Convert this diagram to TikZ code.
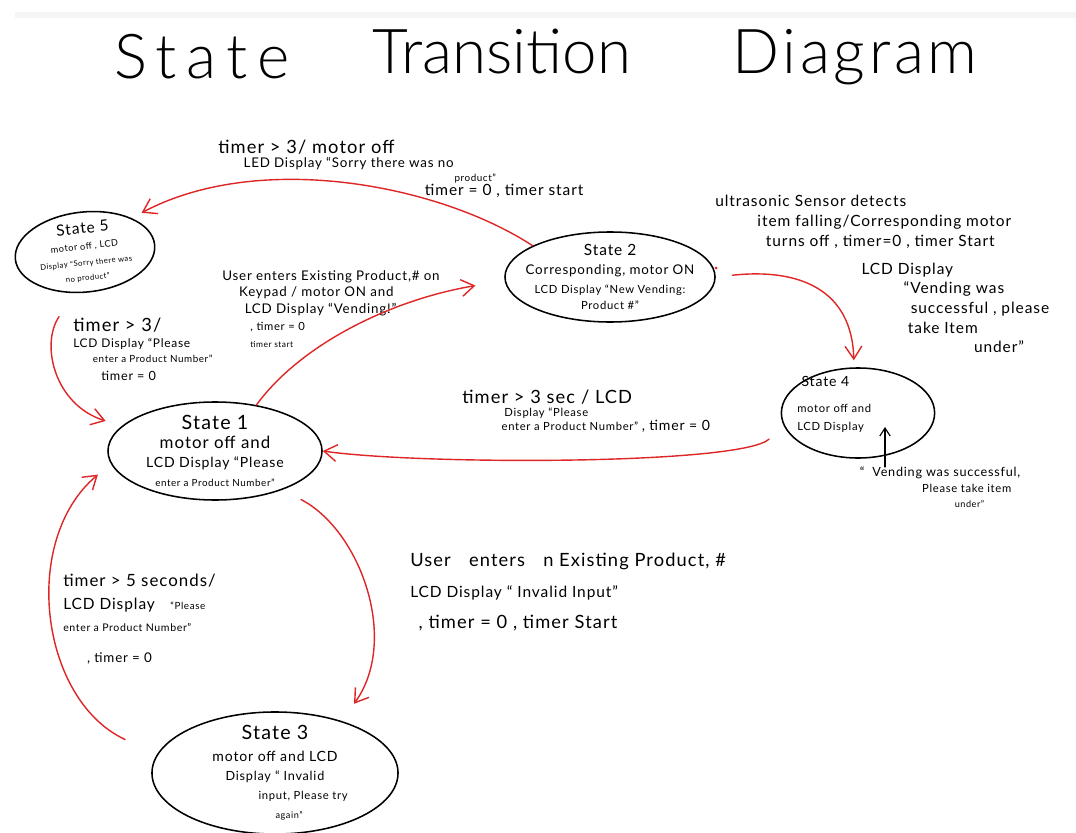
\documentclass[tikz,border=0pt]{standalone}
\usepackage{fontspec}
\setmainfont{Lato}[LetterSpace=6]
\newfontfamily\titlefont{Lato Light}
\usetikzlibrary{shapes.geometric,arrows.meta}
\definecolor{pen}{RGB}{222,38,38}
\newcommand{\fsz}[2]{\fontsize{#1}{#2}\selectfont}
\begin{document}
\begin{tikzpicture}[x=0.025cm, y=-0.025cm, line join=round, line cap=round,
  state/.style={draw, ellipse, line width=1.1pt, inner sep=-20pt, align=center},
  trans/.style={draw=pen, line width=1pt, -{Straight Barb[length=3.2mm,width=4.2mm]}},
  lbl/.style={align=left, inner sep=0pt, anchor=north west},
  ttl/.style={anchor=base, inner sep=0pt}]
\useasboundingbox (0,0) rectangle (1076,833);
\fill[black!4] (15,12) rectangle (1076,18);
% title
\node[ttl] (ttl1) at (202,79) {\titlefont\addfontfeatures{LetterSpace=16}\fsz{44}{48}State};
\node[ttl] (ttl2) at (502,74) {\titlefont\fsz{44}{48}Transition};
\node[ttl] (ttl3) at (855,74) {\titlefont\addfontfeatures{LetterSpace=6}\fsz{44}{48}Diagram};
% states
\node[state, minimum width=3.5cm, minimum height=2cm, rotate=6, font=\fsz{6.5}{10.5}] (s5) at (85,252)
  {{\fsz{11}{13}State 5}\\[1pt]motor off , LCD\\[1pt]{\fsz{5.5}{7}Display ``Sorry there was}\\{\fsz{5.5}{7}no product''}};
\node[state, minimum width=5.25cm, minimum height=2.25cm, font=\fsz{8}{11.5}] (s2) at (610,277)
  {{\fsz{11}{13}State 2}\\[2pt]{\fsz{9.5}{11}Corresponding, motor ON}\\[2pt]LCD Display ``New Vending:\\Product \#''};
\node[state, minimum width=5.35cm, minimum height=2.45cm, font=\fsz{10}{13.5}] (s1) at (215,451)
  {{\fsz{14}{16}State 1}\\{\fsz{12}{14}motor off and}\\LCD Display ``Please\\{\fsz{7}{9}enter a Product Number''}};
\node[state, minimum width=3.83cm, minimum height=2.25cm] (s4) at (858,413) {};
\node[lbl, font=\fsz{8}{12.5}] (s4txt) at (797,376) {{\fsz{10}{13}\hspace*{3pt}State 4}\\[6pt]motor off and\\LCD Display};
\node[state, minimum width=6.15cm, minimum height=3.05cm, font=\fsz{9}{13.5}] (s3) at (275,773)
  {{\fsz{14}{16}State 3}\\[2pt]{\fsz{10}{12}motor off and LCD}\\Display `` Invalid\\\hspace*{40pt}{\fsz{8}{10}input, Please try}\\\hspace*{20pt}{\fsz{6.5}{8}again''}};
% labels
\node[lbl, font=\fsz{9.5}{10}] (la) at (218,140) {{\fsz{13}{16}timer > 3/ motor off}\\
  \hspace*{18pt}LED Display ``Sorry there was no\\
  \hspace*{168pt}{\fsz{7}{8}product''}\\
  \hspace*{147pt}{\fsz{11}{13}timer = 0 , timer start}};
\node[lbl, font=\fsz{9.5}{12}] (lb) at (222,270) {User enters Existing Product,\# on\\
  \hspace*{12pt}Keypad / motor ON and\\
  \hspace*{16pt}LCD Display ``Vending!''\\
  \hspace*{20pt}{\fsz{8}{10}, timer = 0}\\
  \hspace*{20pt}{\fsz{6}{8}timer start}};
\node[lbl, font=\fsz{11}{14}] (lc) at (715,195) {ultrasonic Sensor detects\\
  \hspace*{30pt}item falling/Corresponding motor\\
  \hspace*{36pt}turns off , timer=0 , timer Start\\[6pt]
  \hspace*{104pt}LCD Display\\
  \hspace*{134pt}``Vending was\\
  \hspace*{139pt}successful , please\\
  \hspace*{137pt}take Item\\
  \hspace*{184pt}under''};
\node[lbl, font=\fsz{8}{10}] (ld) at (462,390) {{\fsz{13}{15}timer > 3 sec / LCD}\\[-1pt]
  \hspace*{30pt}Display ``Please\\
  \hspace*{28pt}enter a Product Number'' {\fsz{10}{8}, timer = 0}};
\node[lbl, font=\fsz{8.5}{11}] (le) at (73,318) {{\fsz{13}{15}timer > 3/}\\
  LCD Display ``Please\\
  \hspace*{14pt}{\fsz{7}{9}enter a Product Number''}\\[2pt]
  \hspace*{20pt}{\fsz{9}{11}timer = 0}};
\node[lbl, font=\fsz{13}{22}] (lf) at (410,553) {User\quad enters\quad n Existing Product, \#\\
  {\fsz{11}{13}LCD Display `` Invalid Input''}\\
  \hspace*{6pt}, timer = 0 , timer Start};
\node[lbl, font=\fsz{11}{16}] (lg) at (63,574) {{\fsz{12}{16}timer > 5 seconds/}\\
  LCD Display\quad{\fsz{7}{12}``Please}\\
  {\fsz{7.5}{14}enter a Product Number''}\\[6pt]
  \hspace*{17pt}{\fsz{9.5}{12}, timer = 0}};
\node[align=center, inner sep=0pt, anchor=north, font=\fsz{9}{11}] (vnote) at (940,467)
  {``\ \ Vending was successful,\\\hspace*{38pt}{\fsz{8}{9}Please take item}\\\hspace*{42pt}{\fsz{6.5}{8}under''}};
\coordinate (vtip) at (885,427);
% transitions
\draw[trans, shorten >=8pt] (s2.158) .. controls (440,185) and (260,150) .. (s5.30);
\draw[trans, shorten >=21pt] (s1.48) .. controls (300,345) and (390,300) .. (s2.182);
\draw[trans, shorten <=12pt, shorten >=5pt] (s2.east) .. controls (800,268) and (852,290) .. (s4.95);
\draw[trans, shorten <=14pt] (s4.190) .. controls (740,465) and (420,465) .. (s1.east);
\draw[trans, shorten <=20pt, shorten >=12pt] (s5.250) .. controls (40,345) and (55,405) .. (s1.165);
\draw[trans, shorten <=15pt, shorten >=15pt] (s1.330) .. controls (360,530) and (400,640) .. (s3.38);
\draw[trans, shorten <=25pt, shorten >=12pt] (s3.171) .. controls (40,700) and (20,540) .. (s1.187);
\draw[-{Straight Barb[length=2mm,width=2.6mm]}, line width=0.8pt] (vnote.north -| vtip) -- (vtip);
\fill[pen] (716,268) circle (1.5);
\end{tikzpicture}
\end{document}
